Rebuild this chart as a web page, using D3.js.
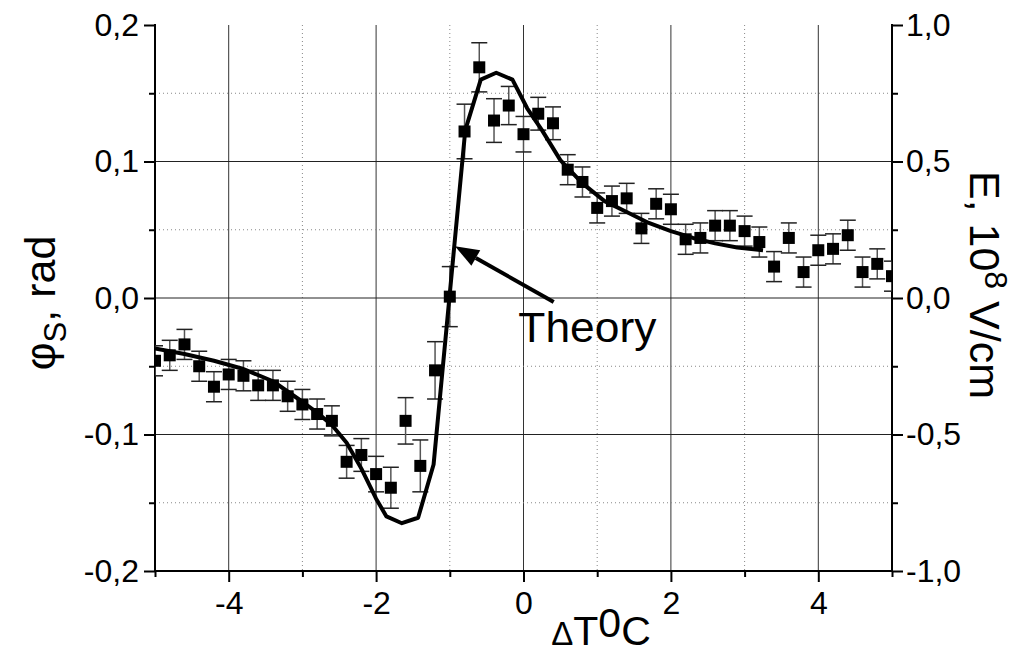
<!DOCTYPE html>
<html>
<head>
<meta charset="utf-8">
<script src="https://cdn.jsdelivr.net/npm/d3@7"></script>
<style>
  body { margin: 0; background: #fff; }
  svg { display: block; font-family: "Liberation Sans", Arial, sans-serif; }
</style>
</head>
<body>
<div class="chart"></div>
<script>
// measured points (step 0.2 in dT) with error bars
var expT = [-5.0, -4.8, -4.6, -4.4, -4.2, -4.0, -3.8, -3.6, -3.4, -3.2, -3.0, -2.8, -2.6, -2.4, -2.2, -2.0, -1.8,
  -1.6, -1.4, -1.2, -1.0, -0.8, -0.6, -0.4, -0.2, 0.0, 0.2, 0.4, 0.6, 0.8, 1.0, 1.2, 1.4, 1.6, 1.8, 2.0,
  2.2, 2.4, 2.6, 2.8, 3.0, 3.2, 3.4, 3.6, 3.8, 4.0, 4.2, 4.4, 4.6, 4.8, 5.0];
var expPhi = [-0.046, -0.042, -0.034, -0.050, -0.065, -0.056, -0.057, -0.064, -0.064, -0.072, -0.078, -0.085, -0.090,
  -0.120, -0.115, -0.129, -0.139, -0.090, -0.123, -0.053, 0.001, 0.122, 0.169, 0.130, 0.141, 0.120, 0.135,
  0.128, 0.094, 0.085, 0.066, 0.071, 0.073, 0.051, 0.069, 0.065, 0.043, 0.044, 0.053, 0.053, 0.049, 0.041,
  0.023, 0.044, 0.019, 0.035, 0.036, 0.046, 0.019, 0.025, 0.016];
var expErr = [0.011, 0.011, 0.011, 0.011, 0.011, 0.011, 0.011, 0.011, 0.011, 0.011, 0.011, 0.011, 0.011,
  0.012, 0.012, 0.013, 0.015, 0.017, 0.019, 0.021, 0.022, 0.020, 0.018, 0.016, 0.014, 0.013, 0.012,
  0.012, 0.011, 0.011, 0.011, 0.011, 0.011, 0.011, 0.011, 0.011, 0.011, 0.011, 0.011, 0.011, 0.011, 0.011,
  0.011, 0.011, 0.011, 0.011, 0.011, 0.011, 0.011, 0.011, 0.011];

// theory curve
var theoryT = [-5.0, -4.6, -4.2, -3.8, -3.4, -3.0, -2.8, -2.6, -2.4, -2.2, -2.0, -1.86, -1.65, -1.43, -1.22,
  -0.79, -0.58, -0.37, -0.15, 0.05, 0.25, 0.5, 0.8, 1.1, 1.4, 1.7, 2.0, 2.3, 2.6, 2.9, 3.25];
var theoryPhi = [-0.037, -0.041, -0.046, -0.052, -0.061, -0.076, -0.084, -0.093, -0.106, -0.125, -0.147, -0.160,
  -0.165, -0.161, -0.122, 0.123, 0.160, 0.165, 0.160, 0.139, 0.123, 0.101, 0.084, 0.071, 0.063, 0.055,
  0.049, 0.044, 0.040, 0.037, 0.035];

// ticks and labels
var xMajor = [-4, -2, 0, 2, 4];
var xMinor = [-5, -3, -1, 1, 3, 5];
var xLabels = ["-4", "-2", "0", "2", "4"];
var yMajor = [-0.2, -0.1, 0, 0.1, 0.2];
var yMinor = [-0.15, -0.05, 0.05, 0.15];
var yLabels = ["-0,2", "-0,1", "0,0", "0,1", "0,2"];
var eMajor = [-1, -0.5, 0, 0.5, 1];
var eMinor = [-0.75, -0.25, 0.25, 0.75];
var eLabels = ["-1,0", "-0,5", "0,0", "0,5", "1,0"];

// annotation: arrow tail/tip in data units
var arrowFrom = [0.41, -0.003];
var arrowTo = [-0.93, 0.038];
var noteAt = [-0.07, -0.032];

var svgWidth = 1023, svgHeight = 654;
var plotLeft = 155, plotRight = 892, plotTop = 25, plotBottom = 571;

var svg = d3.select(".chart").append("svg")
  .attr("width", svgWidth)
  .attr("height", svgHeight);

var x = d3.scaleLinear().domain([-5, 5]).range([plotLeft, plotRight]);
var y = d3.scaleLinear().domain([-0.2, 0.2]).range([plotBottom, plotTop]);
var yE = d3.scaleLinear().domain([-1, 1]).range([plotBottom, plotTop]);

svg.append("defs").append("clipPath").attr("id", "plot")
  .append("rect").attr("x", plotLeft).attr("y", plotTop - 5)
  .attr("width", plotRight - plotLeft).attr("height", plotBottom - plotTop + 5);

// grid
var grid = svg.append("g");
grid.selectAll(".vmaj").data(xMajor).enter().append("line")
  .attr("x1", d => x(d)).attr("x2", d => x(d)).attr("y1", plotTop).attr("y2", plotBottom)
  .attr("stroke", "#333").attr("stroke-width", 1);
grid.selectAll(".vmin").data(xMinor.filter(d => Math.abs(d) < 5)).enter().append("line")
  .attr("x1", d => x(d)).attr("x2", d => x(d)).attr("y1", plotTop).attr("y2", plotBottom)
  .attr("stroke", "#888").attr("stroke-width", 1).attr("stroke-dasharray", "1,3");
grid.selectAll(".hmaj").data([-0.1, 0, 0.1]).enter().append("line")
  .attr("x1", plotLeft).attr("x2", plotRight).attr("y1", d => y(d)).attr("y2", d => y(d))
  .attr("stroke", "#222").attr("stroke-width", 1);
grid.selectAll(".hmin").data(yMinor).enter().append("line")
  .attr("x1", plotLeft).attr("x2", plotRight).attr("y1", d => y(d)).attr("y2", d => y(d))
  .attr("stroke", "#888").attr("stroke-width", 1).attr("stroke-dasharray", "1,3");

// axes
function styleAxis(g) {
  g.select(".domain").remove();
  g.selectAll("line").attr("stroke", "#000").attr("stroke-width", 2);
  g.selectAll("text").attr("font-size", 32).attr("font-family", "Liberation Sans, Arial, sans-serif").attr("fill", "#000");
}

svg.append("g").attr("transform", `translate(${plotLeft},0)`)
  .call(d3.axisLeft(y).tickValues(yMinor).tickSize(6).tickFormat(""))
  .call(styleAxis);
svg.append("g").attr("transform", `translate(${plotLeft},0)`)
  .call(d3.axisLeft(y).tickValues(yMajor).tickSize(11).tickPadding(5).tickFormat((d, i) => yLabels[i]))
  .call(styleAxis);

svg.append("g").attr("transform", `translate(${plotRight},0)`)
  .call(d3.axisRight(yE).tickValues(eMinor).tickSize(6).tickFormat(""))
  .call(styleAxis);
svg.append("g").attr("transform", `translate(${plotRight},0)`)
  .call(d3.axisRight(yE).tickValues(eMajor).tickSize(11).tickPadding(3).tickFormat((d, i) => eLabels[i]))
  .call(styleAxis);

svg.append("g").attr("transform", `translate(0,${plotBottom})`)
  .call(d3.axisBottom(x).tickValues(xMinor).tickSize(6).tickFormat(""))
  .call(styleAxis);
svg.append("g").attr("transform", `translate(0,${plotBottom})`)
  .call(d3.axisBottom(x).tickValues(xMajor).tickSize(11).tickPadding(9).tickFormat((d, i) => xLabels[i]))
  .call(styleAxis);

// axis lines
svg.append("line").attr("x1", plotLeft).attr("x2", plotLeft).attr("y1", plotTop - 1).attr("y2", plotBottom + 1)
  .attr("stroke", "#000").attr("stroke-width", 2);
svg.append("line").attr("x1", plotRight).attr("x2", plotRight).attr("y1", plotTop - 1).attr("y2", plotBottom + 1)
  .attr("stroke", "#000").attr("stroke-width", 2);
svg.append("line").attr("x1", plotLeft).attr("x2", plotRight).attr("y1", plotBottom).attr("y2", plotBottom)
  .attr("stroke", "#000").attr("stroke-width", 2);

// data
var pts = expT.map((t, i) => ({t: t, v: expPhi[i], e: expErr[i]}));
var plot = svg.append("g").attr("clip-path", "url(#plot)");

var bars = plot.selectAll(".err").data(pts).enter().append("g");
bars.append("line")
  .attr("x1", d => x(d.t)).attr("x2", d => x(d.t))
  .attr("y1", d => y(d.v + d.e)).attr("y2", d => y(d.v - d.e))
  .attr("stroke", "#555").attr("stroke-width", 1.5);
bars.selectAll(".cap").data(d => [{t: d.t, v: d.v + d.e}, {t: d.t, v: d.v - d.e}]).enter().append("line")
  .attr("x1", d => x(d.t) - 8).attr("x2", d => x(d.t) + 8)
  .attr("y1", d => y(d.v)).attr("y2", d => y(d.v))
  .attr("stroke", "#222").attr("stroke-width", 1.5);

var line = d3.line().x(d => x(d[0])).y(d => y(d[1]));
plot.append("path")
  .datum(theoryT.map((t, i) => [t, theoryPhi[i]]))
  .attr("d", line)
  .attr("fill", "none").attr("stroke", "#000").attr("stroke-width", 4).attr("stroke-linejoin", "round");

plot.selectAll(".pt").data(pts).enter().append("rect")
  .attr("x", d => x(d.t) - 6).attr("y", d => y(d.v) - 6)
  .attr("width", 12).attr("height", 12).attr("fill", "#000");

// arrow annotation
var ax0 = x(arrowFrom[0]), ay0 = y(arrowFrom[1]), ax1 = x(arrowTo[0]), ay1 = y(arrowTo[1]);
var ang = Math.atan2(ay1 - ay0, ax1 - ax0);
var headLen = 24, headW = 9;
var bx = ax1 - headLen * Math.cos(ang), by = ay1 - headLen * Math.sin(ang);
svg.append("line").attr("x1", ax0).attr("y1", ay0).attr("x2", bx).attr("y2", by)
  .attr("stroke", "#000").attr("stroke-width", 4);
svg.append("path")
  .attr("d", `M${ax1},${ay1}L${bx - headW * Math.sin(ang)},${by + headW * Math.cos(ang)}L${bx + headW * Math.sin(ang)},${by - headW * Math.cos(ang)}Z`)
  .attr("fill", "#000");
svg.append("text").attr("x", x(noteAt[0])).attr("y", y(noteAt[1]))
  .attr("font-size", 42).attr("textLength", 138).attr("lengthAdjust", "spacingAndGlyphs").text("Theory");

// axis titles
var yt = svg.append("text").attr("transform", "translate(55,303) rotate(-90)")
  .attr("text-anchor", "middle").attr("font-size", 43);
yt.append("tspan").text("φ");
yt.append("tspan").attr("font-size", 31).attr("dy", 11).text("S");
yt.append("tspan").attr("dy", -11).text(", rad");

var et = svg.append("text").attr("transform", "translate(970,285) rotate(90)")
  .attr("text-anchor", "middle").attr("font-size", 43);
et.append("tspan").text("E, 10");
et.append("tspan").attr("font-size", 32).attr("dy", -15).text("8");
et.append("tspan").attr("dy", 15).text(" V/cm");

var xt = svg.append("text").attr("x", 601).attr("y", 645)
  .attr("text-anchor", "middle").attr("font-size", 41);
xt.append("tspan").attr("font-size", 33).text("Δ");
xt.append("tspan").text("T");
xt.append("tspan").attr("dy", -8).text("0");
xt.append("tspan").attr("dy", 8).text("C");
</script>
</body>
</html>
